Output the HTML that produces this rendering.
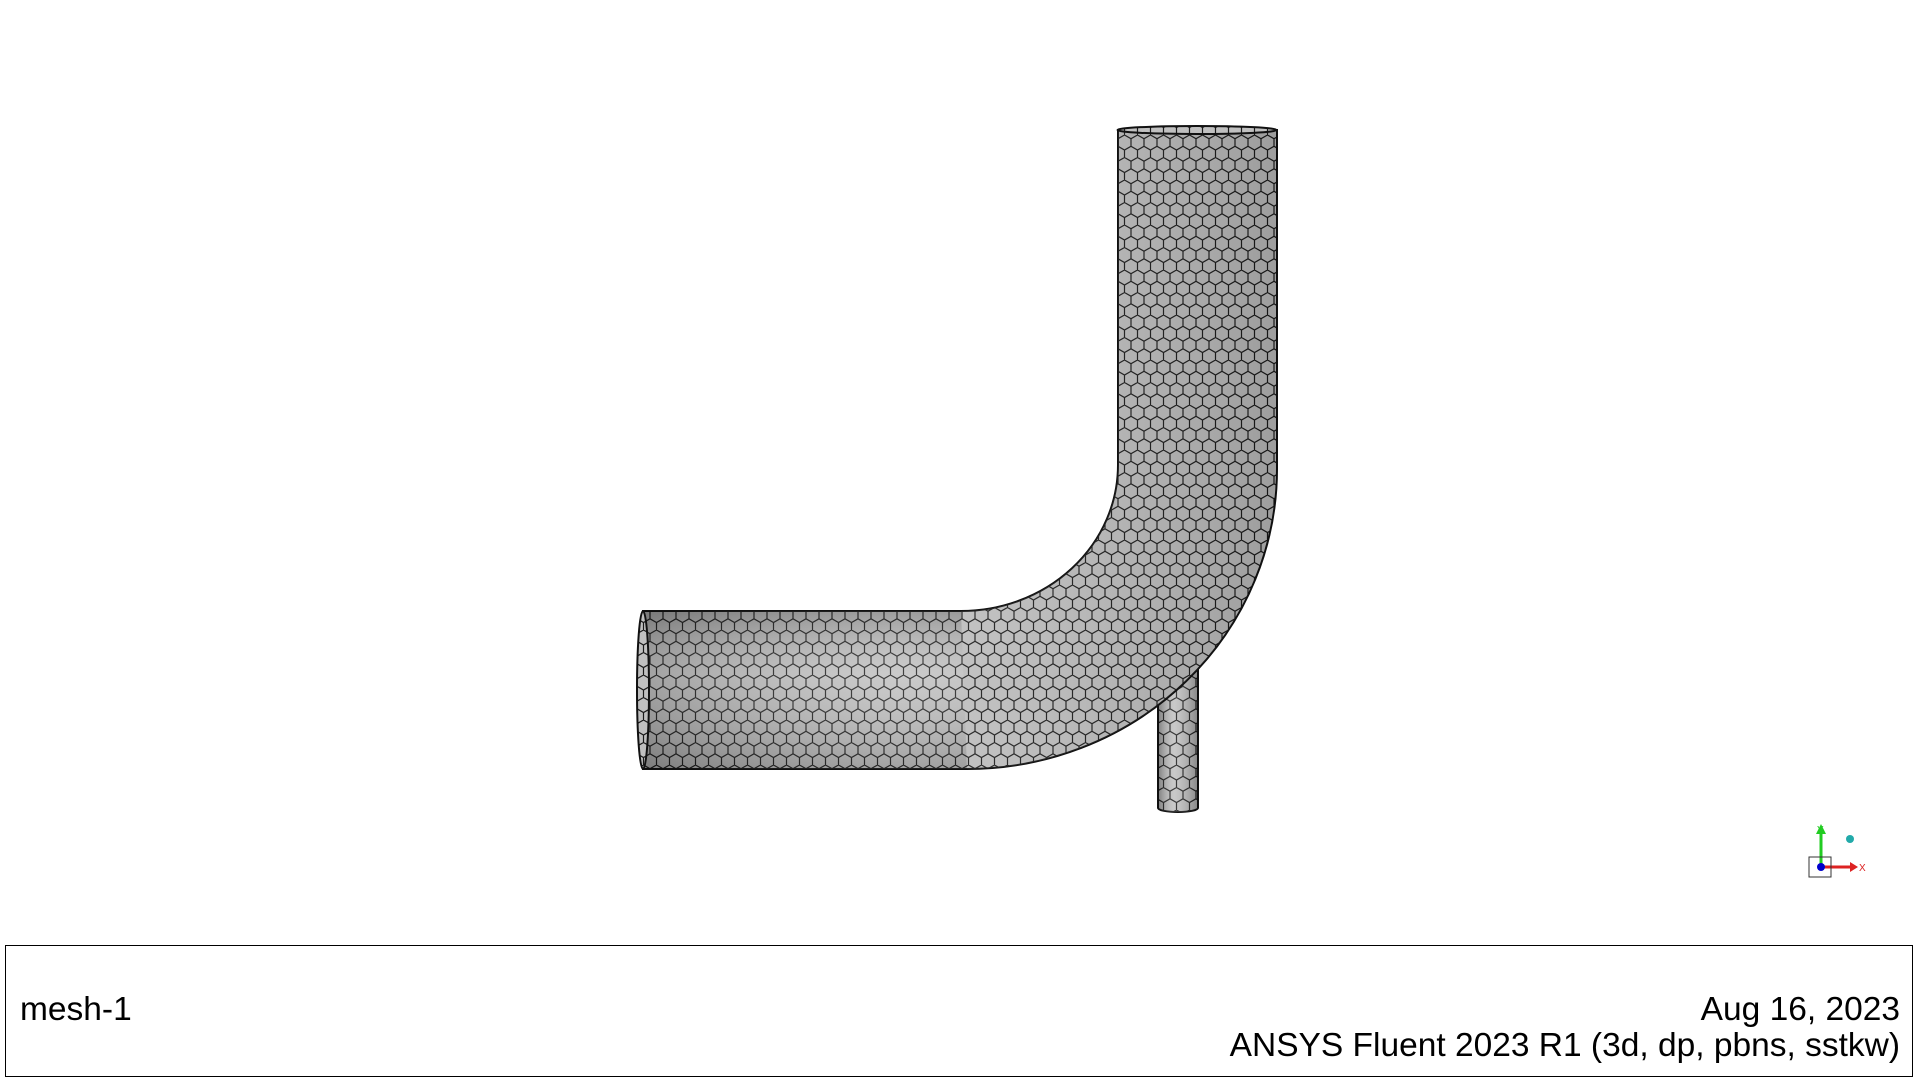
<!DOCTYPE html>
<html><head><meta charset="utf-8"><style>
html,body{margin:0;padding:0;background:#fff;width:1920px;height:1080px;overflow:hidden;font-family:"Liberation Sans",sans-serif}
#info{position:absolute;left:5px;top:945px;width:1908px;height:132px;border:1.5px solid #000;box-sizing:border-box}
.t{position:absolute;font-size:33.5px;color:#000;white-space:nowrap}
</style></head><body>
<svg width="1920" height="945" style="position:absolute;left:0;top:0">
<defs>
<pattern id="hex" width="13" height="22.5" patternUnits="userSpaceOnUse">
<rect width="13" height="22.5" fill="#c0c0c0"/>
<path d="M0,3.75 L6.5,0 L13,3.75 M6.5,0 L6.5,-4 M0,3.75 L0,11.25 L6.5,15 L13,11.25 L13,3.75 M6.5,15 L6.5,22.5" fill="none" stroke="#1a1a1a" stroke-width="1.2"/>
</pattern>
<linearGradient id="gv" x1="0" x2="1" y1="0" y2="0">
<stop offset="0" stop-color="#000" stop-opacity="0.35"/><stop offset="0.4" stop-color="#fff" stop-opacity="0.15"/><stop offset="1" stop-color="#000" stop-opacity="0.3"/></linearGradient>
<linearGradient id="gh" x1="0" x2="0" y1="0" y2="1">
<stop offset="0" stop-color="#000" stop-opacity="0.35"/><stop offset="0.4" stop-color="#fff" stop-opacity="0.15"/><stop offset="1" stop-color="#000" stop-opacity="0.3"/></linearGradient>
</defs>
<g>
<path d="M1158,655 L1158,808 A20,4 0 0 0 1198,808 L1198,650 Z" fill="url(#hex)" stroke="#111" stroke-width="2"/>
<path d="M1158,655 L1158,808 A20,4 0 0 0 1198,808 L1198,650 Z" fill="url(#gv)"/>
</g>
<g>
<path d="M1118,130 L1118,465 A157,146 0 0 1 961,611 L643,611 L643,769 L967,769 A310,300 0 0 0 1277,469 L1277,130 Z" fill="url(#hex)" stroke="#111" stroke-width="2"/>
<path d="M1118,130 L1118,465 A157,146 0 0 1 961,611 L643,611 L643,769 L967,769 A310,300 0 0 0 1277,469 L1277,130 Z" fill="url(#gv)" opacity="0.6"/>
<path d="M643,611 L961,611 L967,769 L643,769 Z" fill="url(#gh)" opacity="0.6"/>
<ellipse cx="1197" cy="130" rx="79.5" ry="4" fill="url(#hex)" stroke="#111" stroke-width="2"/>
<ellipse cx="643" cy="690" rx="6" ry="79" fill="url(#hex)" stroke="#111" stroke-width="2"/>
</g>
<g>
<line x1="1821" y1="867" x2="1821" y2="830" stroke="#2c2" stroke-width="3"/>
<polygon points="1816,834 1826,834 1821,824" fill="#2c2"/>
<text x="1817" y="833" font-size="10" fill="#2c2" font-family="Liberation Sans">Y</text>
<line x1="1821" y1="867" x2="1853" y2="867" stroke="#d22" stroke-width="3"/>
<polygon points="1850,862 1850,872 1858,867" fill="#d22"/>
<text x="1859" y="871" font-size="10" fill="#d22" font-family="Liberation Sans">X</text>
<rect x="1809" y="857" width="22" height="20" fill="none" stroke="#333" stroke-width="1"/>
<circle cx="1821" cy="867" r="4" fill="#00c"/>
<circle cx="1850" cy="839" r="4" fill="#2aa"/>
</g>
</svg>
<div id="info">
<div class="t" style="left:14px;top:45px">mesh-1</div>
<div class="t" style="right:12px;top:45px">Aug 16, 2023</div>
<div class="t" style="right:12px;top:81px">ANSYS Fluent 2023 R1 (3d, dp, pbns, sstkw)</div>
</div>
</body></html>
